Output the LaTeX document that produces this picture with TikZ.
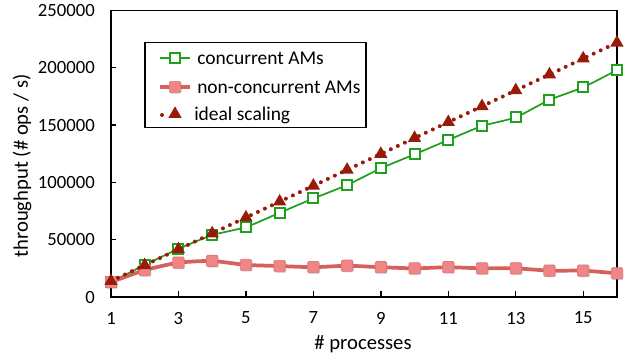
\documentclass[tikz,border=0pt]{standalone}
\usepackage{fontspec}
\setmainfont{Carlito}
\usetikzlibrary{shapes.geometric,shadows}
\definecolor{cgreen}{HTML}{1FA01F}
\definecolor{cpinkline}{HTML}{D6605E}
\definecolor{cpinkfill}{HTML}{F08585}
\definecolor{cred}{HTML}{9A1A0A}
\begin{document}
\begin{tikzpicture}[x=0.75pt,y=-0.75pt,
  font=\fontsize{14pt}{17pt}\selectfont,
  gsq/.style={rectangle,draw=cgreen,fill=white,line width=1.5pt,minimum size=7.5pt,inner sep=0pt},
  psq/.style={rectangle,draw=cpinkline!85!white,fill=cpinkfill,line width=0.5pt,minimum size=8.5pt,inner sep=0pt,rounded corners=0.8pt,
    drop shadow={opacity=0.25,shadow xshift=0.8pt,shadow yshift=-0.8pt}},
  tri/.style={regular polygon,regular polygon sides=3,fill=cred,minimum size=11.5pt,inner sep=0pt},
  gline/.style={draw=cgreen,line width=1.3pt},
  pline/.style={draw=cpinkline,line width=2.8pt},
  tline/.style={draw=cred,line width=3pt,line cap=round,dash pattern=on 0pt off 5.8pt},
  frame/.style={draw=black,line width=1.3pt},
  tick/.style={draw=black,line width=1pt},
  lbl/.style={inner sep=0pt},
  ttl/.style={inner sep=0pt,font=\fontsize{15.5pt}{18pt}\selectfont},
  leg/.style={inner sep=0pt,anchor=west,font=\fontsize{14.6pt}{17pt}\selectfont}]
\useasboundingbox (0,0) rectangle (628,358);
% frame
\coordinate (TL) at (111,10.5);
\coordinate (BR) at (617,297);
\coordinate (BL) at (111,297);
\draw[frame] (TL) rectangle (BR);
\draw[draw=black,line width=1.6pt] (TL) -- (BL) -- (BR);
% y ticks and labels (value in thousands)
\foreach \v in {0,50,100,150,200,250}{
  \node[lbl,anchor=east] (yl\v) at (95,{297-1.146*\v}) {\ifnum\v=0 0\else\v000\fi};
}
\foreach \v in {50,100,150,200}{
  \coordinate (ya\v) at (111,{297-1.146*\v});
  \coordinate (yb\v) at (116,{297-1.146*\v});
  \draw[tick] (ya\v) -- (yb\v);
}
% x ticks and labels
\foreach \n in {1,3,...,15}{
  \node[lbl] (xl\n) at ({111+(\n-1)*33.73},318) {\n};
}
\foreach \n in {3,5,...,15}{
  \coordinate (xa\n) at ({111+(\n-1)*33.73},297);
  \coordinate (xb\n) at ({111+(\n-1)*33.73},291);
  \draw[tick] (xa\n) -- (xb\n);
}
\node[ttl] (xt) at (363,344) {\# processes};
\node[ttl,rotate=90] (yt) at (22,166) {throughput (\# ops / s)};
% data coordinates (thousands)
\foreach \v [count=\i] in {13,28,42,54,61,73.5,86,97.7,112.3,124.5,137,149.2,156.8,172,183,198}{
  \coordinate (g\i) at ({111+(\i-1)*33.73},{297-1.146*\v});
}
\foreach \v [count=\i] in {13,23.5,30,31.5,28,27,26,27.3,26,25,26,25,25,23,23,20.7}{
  \coordinate (p\i) at ({111+(\i-1)*33.73},{297-1.146*\v});
}
\foreach \i in {1,...,16}{
  \coordinate (t\i) at ({111+(\i-1)*33.73},{297-1.146*13.87*\i});
}
% green series
\draw[gline] plot[smooth,tension=0.35] coordinates {(g1) (g2) (g3) (g4) (g5) (g6) (g7) (g8) (g9) (g10) (g11) (g12) (g13) (g14) (g15) (g16)};
\foreach \i in {1,...,16}{ \node[gsq] (G\i) at (g\i) {}; }
% pink series
\draw[pline] plot[smooth,tension=0.3] coordinates {(p1) (p2) (p3) (p4) (p5) (p6) (p7) (p8) (p9) (p10) (p11) (p12) (p13) (p14) (p15) (p16)};
\foreach \i in {1,...,16}{ \node[psq] (P\i) at (p\i) {}; }
% ideal series
\draw[tline] (t1) \foreach \i in {2,...,16}{ -- (t\i) };
\foreach \i in {1,...,16}{ \node[tri] (T\i) at (t\i) {}; }
% legend
\coordinate (LA) at (145,42.5);
\coordinate (LB) at (366,127.5);
\draw[draw=black,line width=1pt,fill=white] (LA) rectangle (LB);
\coordinate (l1a) at (160,58); \coordinate (l1b) at (190,58);
\draw[gline] (l1a) -- (l1b);
\node[gsq] (lg) at (175,58) {};
\node[leg] (lt1) at (197,58) {concurrent AMs};
\coordinate (l2a) at (160,87); \coordinate (l2b) at (190,87);
\draw[pline] (l2a) -- (l2b);
\node[psq] (lp) at (175,87) {};
\node[leg] (lt2) at (197,87) {non-concurrent AMs};
\coordinate (l3a) at (162,115); \coordinate (l3b) at (189,115);
\draw[tline,dash pattern=on 0pt off 27pt] (l3a) -- (l3b);
\node[tri] (lr) at (175,114) {};
\node[leg] (lt3) at (194,115) {ideal scaling};
\end{tikzpicture}
\end{document}
